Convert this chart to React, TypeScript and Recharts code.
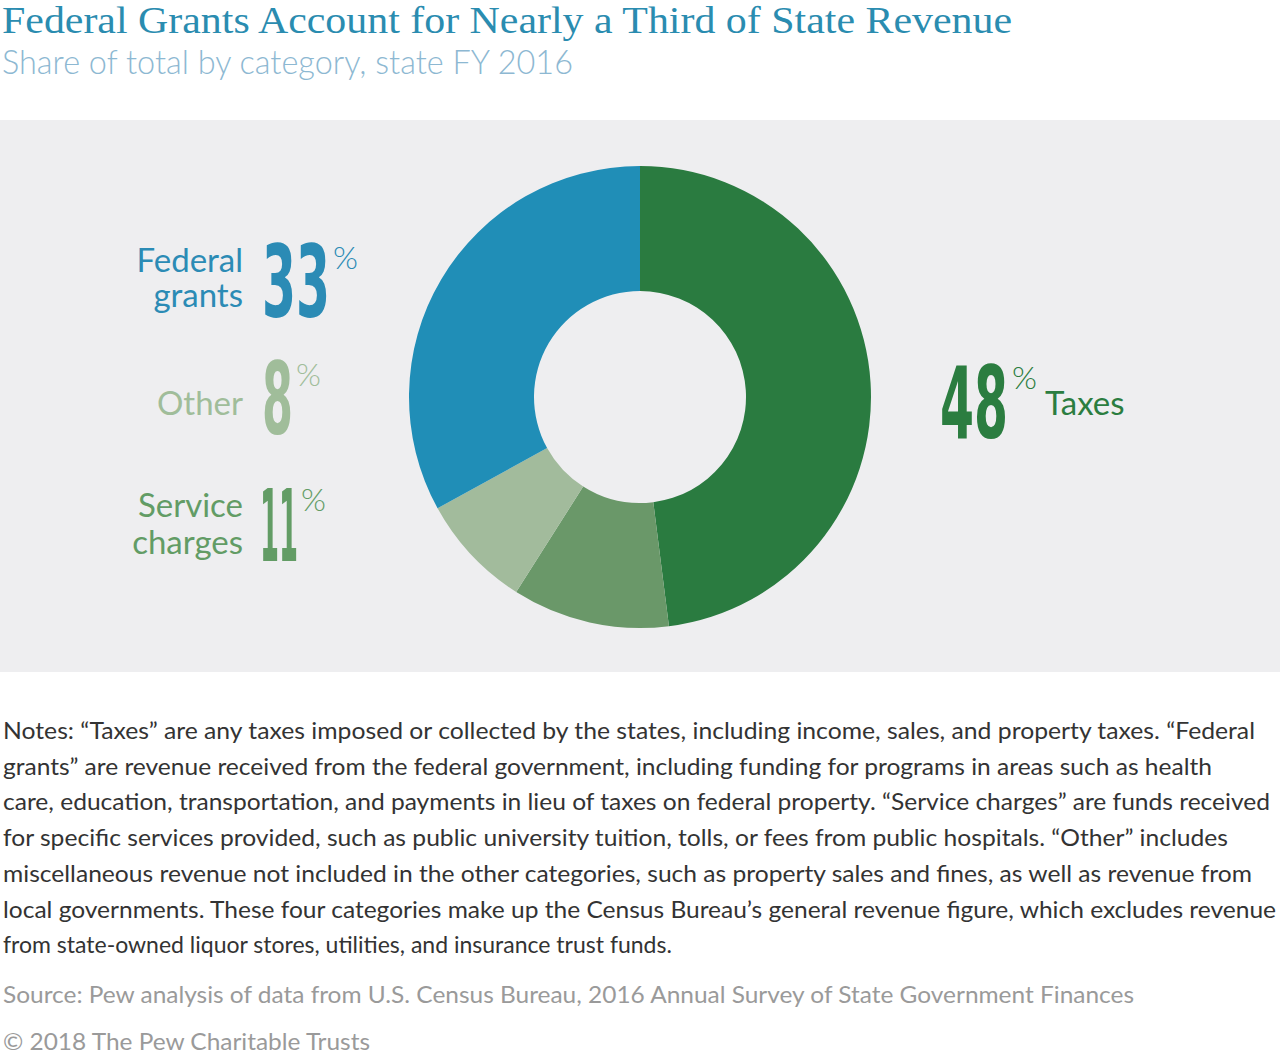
import React from "react";
import { PieChart, Pie, Cell } from "recharts";

// revenue shares, state FY 2016 (percent of total)
const categories = ["Taxes", "Service charges", "Other", "Federal grants"];
const shares = [48, 11, 8, 33];
const sliceColors = ["#2a7b40", "#6a9869", "#a2bb9c", "#208eb7"];
const labelColors = ["#2b7d40", "#629c65", "#a0bd9a", "#2b8bb5"];
const labelLines = [["Taxes"], ["Service", "charges"], ["Other"], ["Federal", "grants"]];

const title = "Federal Grants Account for Nearly a Third of State Revenue";
const subtitle = "Share of total by category, state FY 2016";
const noteLines = [
  "Notes: \u201cTaxes\u201d are any taxes imposed or collected by the states, including income, sales, and property taxes. \u201cFederal",
  "grants\u201d are revenue received from the federal government, including funding for programs in areas such as health",
  "care, education, transportation, and payments in lieu of taxes on federal property. \u201cService charges\u201d are funds received",
  "for specific services provided, such as public university tuition, tolls, or fees from public hospitals. \u201cOther\u201d includes",
  "miscellaneous revenue not included in the other categories, such as property sales and fines, as well as revenue from",
  "local governments. These four categories make up the Census Bureau\u2019s general revenue figure, which excludes revenue",
  "from state-owned liquor stores, utilities, and insurance trust funds.",
];
const source = "Source: Pew analysis of data from U.S. Census Bureau, 2016 Annual Survey of State Government Finances";
const copyright = "\u00a9 2018 The Pew Charitable Trusts";

const data = categories.map((name, i) => ({ name, value: shares[i] }));

// label placement (layout only)
const labelLayout = [
  { side: "right", numX: 940, numY: 438, numW: 68, pctX: 1012, pctY: 389, textX: 1045, textY: [415] },
  { side: "left", numX: 260, numY: 561, numW: 38, pctX: 301, pctY: 511, textX: 243, textY: [517, 554] },
  { side: "left", numX: 262, numY: 434, numW: 31, pctX: 296, pctY: 386, textX: 243, textY: [415] },
  { side: "left", numX: 262, numY: 317, numW: 68, pctX: 333, pctY: 269, textX: 243, textY: [272, 307] },
];
const noteEnds = [1255, 1212, 1270, 1228, 1252, 1276, 0];

const numFont = "'DejaVu Sans Condensed', 'DejaVu Sans', sans-serif";

export default function App() {
  return (
    <div style={{ position: "absolute", left: 0, top: 0, width: 1280, height: 1056, background: "#ffffff", overflow: "hidden" }}>
      <div style={{ position: "absolute", left: 0, top: 120, width: 1280, height: 552, background: "#eeeef0" }} />
      <div style={{ position: "absolute", left: 0, top: 0 }}>
        <PieChart width={1280} height={1056} margin={{ top: 0, right: 0, bottom: 0, left: 0 }}>
          <Pie
            data={data}
            dataKey="value"
            nameKey="name"
            cx={640}
            cy={397}
            innerRadius={106}
            outerRadius={231}
            startAngle={90}
            endAngle={-270}
            stroke="none"
            isAnimationActive={false}
          >
            {data.map((d, i) => (
              <Cell key={d.name} fill={sliceColors[i]} />
            ))}
          </Pie>
        </PieChart>
      </div>
      <svg width={1280} height={1056} style={{ position: "absolute", left: 0, top: 0, pointerEvents: "none" }}>
        <text x={2} y={33} fontFamily="Liberation Serif" fontSize={38} fill="#2a8cb0" textLength={1010} lengthAdjust="spacingAndGlyphs">
          {title}
        </text>
        <text x={2} y={74} fontFamily="Lato" fontWeight={300} fontSize={34} fill="#8db8d2" textLength={571} lengthAdjust="spacingAndGlyphs">
          {subtitle}
        </text>

        {labelLayout.map((l, i) => (
          <g key={categories[i]}>
            <text
              x={l.numX}
              y={l.numY}
              fontFamily={numFont}
              fontWeight={700}
              fontSize={99}
              fill={labelColors[i]}
              textLength={l.numW}
              lengthAdjust="spacingAndGlyphs"
            >
              {shares[i]}
            </text>
            <text x={l.pctX} y={l.pctY} fontFamily="Lato" fontWeight={300} fontSize={32} fill={labelColors[i]}>
              %
            </text>
            {labelLines[i].map((line, j) => (
              <text
                key={line}
                x={l.textX}
                y={l.textY[j]}
                textAnchor={l.side === "left" ? "end" : "start"}
                fontFamily="Lato"
                fontSize={33}
                fill={labelColors[i]}
              >
                {line}
              </text>
            ))}
          </g>
        ))}

        {noteLines.map((line, i) => (
          <text
            key={i}
            x={3}
            y={739 + i * 35.7}
            fontFamily="Lato"
            fontSize={23}
            fill="#333333"
            {...(noteEnds[i] ? { textLength: noteEnds[i] - 3, lengthAdjust: "spacingAndGlyphs" } : {})}
          >
            {line}
          </text>
        ))}
        <text x={3} y={1003} fontFamily="Lato" fontSize={23} fill="#9a9a9a" textLength={1131} lengthAdjust="spacingAndGlyphs">
          {source}
        </text>
        <text x={3} y={1050} fontFamily="Lato" fontSize={23} fill="#9a9a9a" textLength={367} lengthAdjust="spacingAndGlyphs">
          {copyright}
        </text>
      </svg>
    </div>
  );
}
